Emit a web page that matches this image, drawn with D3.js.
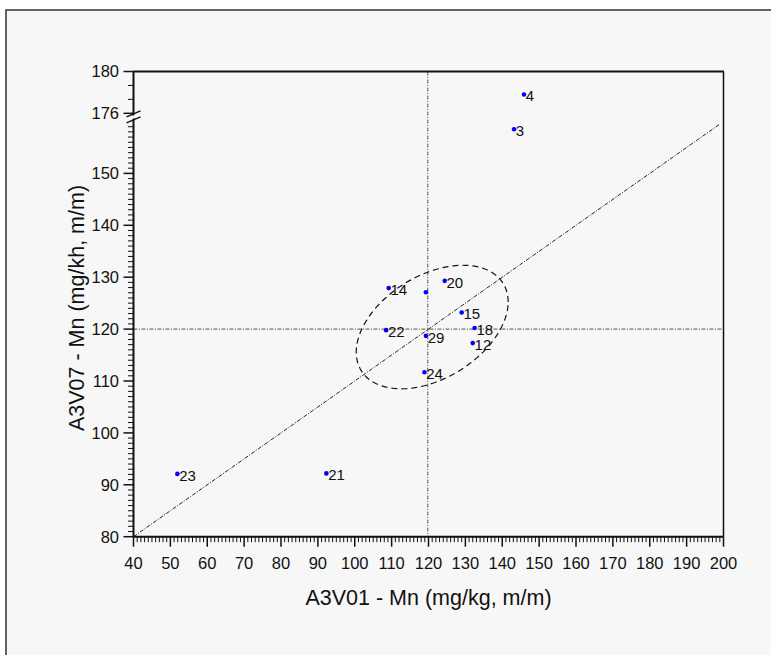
<!DOCTYPE html>
<html>
<head>
<meta charset="utf-8">
<script src="https://cdn.jsdelivr.net/npm/d3@7"></script>
<style>
html,body{margin:0;padding:0;background:#fff;}
svg{display:block;font-family:"Liberation Sans",Arial,sans-serif;}
</style>
</head>
<body>
<svg id="chart" width="771" height="655"></svg>
<script>
// ---- data ----
const labIds  = ["4", "3", "20", "14", "", "15", "22", "18", "29", "12", "24", "23", "21"];
const xValues = [145.9, 143.2, 124.4, 109.2, 119.3, 129.0, 108.5, 132.5, 119.3, 132.0, 118.9, 51.9, 92.3];
const yValues = [177.8, 158.5, 129.3, 127.9, 127.1, 123.2, 119.8, 120.2, 118.7, 117.3, 111.7, 92.1, 92.2];
const xTickLabels = [40,50,60,70,80,90,100,110,120,130,140,150,160,170,180,190,200];
const yTickLabelsLow = [80,90,100,110,120,130,140,150];
const yTickLabelsHigh = [176,180];
const medianX = [119.8];
const medianY = [120.0];
const diagLine = [[40,80],[199,159.5]];
const ellipseCenter = [121, 120.4];
const ellipseAxes = [20.6, 11.9];   // half ranges in x and y (data units)
const ellipsePhase = [66];          // degrees

// ---- layout ----
const svg = d3.select("#chart");
const L = 133.5, R = 723.5, T = 71.5, B = 536.7;
const x = d3.scaleLinear().domain([40,200]).range([L,R]);
const yLow = d3.scaleLinear().domain([80,160]).range([B,121.5]);
const yHigh = d3.scaleLinear().domain([176,180]).range([113.3,T]);
const y = v => v >= 168 ? yHigh(v) : yLow(v);

// outer frame
svg.append("rect").attr("x",6).attr("y",10).attr("width",800).attr("height",700)
  .attr("fill","#f7f7f7").attr("stroke","#333").attr("stroke-width",1.5);

// reference lines
svg.append("line").attr("x1",L).attr("x2",R).attr("y1",yLow(medianY[0])).attr("y2",yLow(medianY[0]))
  .attr("stroke","#555").attr("stroke-width",1).attr("stroke-dasharray","4,1.5,1,1.5");
svg.append("line").attr("x1",x(medianX[0])).attr("x2",x(medianX[0])).attr("y1",T).attr("y2",B)
  .attr("stroke","#555").attr("stroke-width",1).attr("stroke-dasharray","4,1.5,1,1.5");
svg.append("path")
  .attr("d", d3.line().x(d=>x(d[0])).y(d=>yLow(d[1]))(diagLine))
  .attr("fill","none").attr("stroke","#222").attr("stroke-width",1).attr("stroke-dasharray","4,1.5,1,1.5");

// ellipse
const ph = ellipsePhase[0]*Math.PI/180;
const ePts = d3.range(0, 361, 2).map(a => {
  const t = a*Math.PI/180;
  return [ellipseCenter[0] + ellipseAxes[0]*Math.cos(t), ellipseCenter[1] + ellipseAxes[1]*Math.cos(t - ph)];
});
svg.append("path")
  .attr("d", d3.line().x(d=>x(d[0])).y(d=>yLow(d[1])).curve(d3.curveLinearClosed)(ePts))
  .attr("fill","none").attr("stroke","#111").attr("stroke-width",1.2).attr("stroke-dasharray","6,4");

// plot frame: top + right
svg.append("line").attr("x1",L).attr("x2",R+0.5).attr("y1",T).attr("y2",T).attr("stroke","#111").attr("stroke-width",2);
svg.append("line").attr("x1",R).attr("x2",R).attr("y1",T).attr("y2",B).attr("stroke","#111").attr("stroke-width",1.5);

// x axis
const xMinor = d3.range(40,201,1);
const gx = svg.append("g");
gx.append("line").attr("x1",L).attr("x2",R).attr("y1",B).attr("y2",B).attr("stroke","#111").attr("stroke-width",2);
gx.selectAll("line.mn").data(xMinor.filter(v=>v%10!==0)).join("line").attr("class","mn")
  .attr("x1",d=>x(d)).attr("x2",d=>x(d)).attr("y1",B).attr("y2",B+5.5).attr("stroke","#111").attr("stroke-width",1);
gx.selectAll("line.mj").data(xTickLabels).join("line").attr("class","mj")
  .attr("x1",d=>x(d)).attr("x2",d=>x(d)).attr("y1",B).attr("y2",B+10).attr("stroke","#111").attr("stroke-width",1.5);
gx.selectAll("text").data(xTickLabels).join("text")
  .attr("x",d=>x(d)).attr("y",568.5).attr("text-anchor","middle").attr("font-size",16.5).attr("fill","#111").text(d=>d);

// y axis
const gy = svg.append("g");
gy.append("line").attr("x1",L).attr("x2",L).attr("y1",T).attr("y2",B).attr("stroke","#111").attr("stroke-width",2);
const yMinorLow = d3.range(80,160,1).filter(v=>v%10!==0);
gy.selectAll("line.mnl").data(yMinorLow).join("line").attr("class","mnl")
  .attr("x1",L).attr("x2",L-5.5).attr("y1",d=>yLow(d)).attr("y2",d=>yLow(d)).attr("stroke","#111").attr("stroke-width",1);
gy.selectAll("line.mjl").data(yTickLabelsLow).join("line").attr("class","mjl")
  .attr("x1",L).attr("x2",L-10).attr("y1",d=>yLow(d)).attr("y2",d=>yLow(d)).attr("stroke","#111").attr("stroke-width",1.5);
const yMinorHigh = [176+4/3, 176+8/3];
gy.selectAll("line.mnh").data(yMinorHigh).join("line").attr("class","mnh")
  .attr("x1",L).attr("x2",L-5.5).attr("y1",d=>yHigh(d)).attr("y2",d=>yHigh(d)).attr("stroke","#111").attr("stroke-width",1);
gy.selectAll("line.mjh").data(yTickLabelsHigh).join("line").attr("class","mjh")
  .attr("x1",L).attr("x2",L-10).attr("y1",d=>yHigh(d)).attr("y2",d=>yHigh(d)).attr("stroke","#111").attr("stroke-width",1.5);
gy.selectAll("text.tl").data(yTickLabelsLow).join("text").attr("class","tl")
  .attr("x",L-14.5).attr("y",d=>yLow(d)).attr("dy","0.36em").attr("text-anchor","end").attr("font-size",16.5).attr("fill","#111").text(d=>d);
gy.selectAll("text.th").data(yTickLabelsHigh).join("text").attr("class","th")
  .attr("x",L-14.5).attr("y",d=>yHigh(d)).attr("dy","0.36em").attr("text-anchor","end").attr("font-size",16.5).attr("fill","#111").text(d=>d);

// axis break
const by = (yLow(160)+yHigh(176))/2;
svg.append("polygon").attr("points",`${L-7},${by+1} ${L+7},${by-5} ${L+7},${by-2} ${L-7},${by+4}`).attr("fill","#f7f7f7");
svg.append("line").attr("x1",L-7).attr("x2",L+7).attr("y1",by+1-1.5).attr("y2",by-5-1.5).attr("stroke","#111").attr("stroke-width",1.5);
svg.append("line").attr("x1",L-7).attr("x2",L+7).attr("y1",by+4+1.5).attr("y2",by-2+1.5).attr("stroke","#111").attr("stroke-width",1.5);

// points
const pts = labIds.map((id,i)=>({id, xv:xValues[i], yv:yValues[i]}));
svg.selectAll("circle.pt").data(pts).join("circle").attr("class","pt")
  .attr("cx",d=>x(d.xv)).attr("cy",d=>y(d.yv)).attr("r",2.3).attr("fill","#0000ff");
svg.selectAll("text.lab").data(pts).join("text").attr("class","lab")
  .attr("x",d=>x(d.xv)+1.8).attr("y",d=>y(d.yv)+1.5).attr("dy","0.35em")
  .attr("font-size",15).attr("fill","#111").text(d=>d.id);

// titles
svg.append("text").attr("x",(L+R)/2).attr("y",605).attr("text-anchor","middle")
  .attr("font-size",21.5).attr("fill","#111").text("A3V01 - Mn (mg/kg, m/m)");
svg.append("text").attr("transform",`translate(84,308) rotate(-90)`).attr("text-anchor","middle")
  .attr("font-size",21.5).attr("fill","#111").text("A3V07 - Mn (mg/kh, m/m)");
</script>
</body>
</html>
